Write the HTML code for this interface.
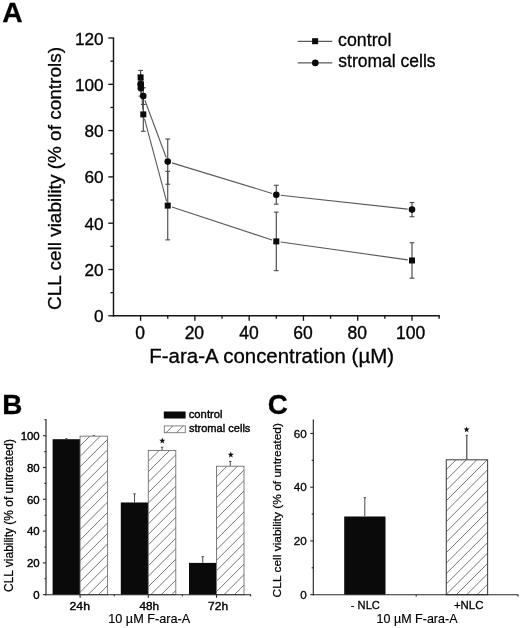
<!DOCTYPE html>
<html lang="en">
<head>
<meta charset="utf-8">
<title>Figure</title>
<style>
html,body{margin:0;padding:0;background:#fff;}
body{width:520px;height:628px;overflow:hidden;font-family:"Liberation Sans",sans-serif;}
svg{display:block;filter:grayscale(1) blur(0.35px);}
svg text{font-family:"Liberation Sans",sans-serif;fill:#000;}
</style>
</head>
<body>
<svg width="520" height="628" viewBox="0 0 520 628">
<rect x="0" y="0" width="520" height="628" fill="#ffffff"/>
<text font-size="28" textLength="20.42" lengthAdjust="spacingAndGlyphs" font-weight="bold" stroke="#000" stroke-width="0.3" x="2.32" y="22.30">A</text>
<line x1="113.50" y1="37.40" x2="113.50" y2="316.45" stroke="#151515" stroke-width="1.45" stroke-linecap="butt"/>
<line x1="112.85" y1="315.80" x2="439.74" y2="315.80" stroke="#151515" stroke-width="1.45" stroke-linecap="butt"/>
<line x1="108.30" y1="315.80" x2="113.50" y2="315.80" stroke="#151515" stroke-width="1.35" stroke-linecap="butt"/>
<text font-size="17.2" textLength="9.57" lengthAdjust="spacingAndGlyphs" stroke="#000" stroke-width="0.3" x="94.09" y="322.30">0</text>
<line x1="110.50" y1="292.65" x2="113.50" y2="292.65" stroke="#151515" stroke-width="1.35" stroke-linecap="butt"/>
<line x1="108.30" y1="269.50" x2="113.50" y2="269.50" stroke="#151515" stroke-width="1.35" stroke-linecap="butt"/>
<text font-size="17.2" textLength="19.13" lengthAdjust="spacingAndGlyphs" stroke="#000" stroke-width="0.3" x="84.53" y="276.00">20</text>
<line x1="110.50" y1="246.35" x2="113.50" y2="246.35" stroke="#151515" stroke-width="1.35" stroke-linecap="butt"/>
<line x1="108.30" y1="223.20" x2="113.50" y2="223.20" stroke="#151515" stroke-width="1.35" stroke-linecap="butt"/>
<text font-size="17.2" textLength="19.13" lengthAdjust="spacingAndGlyphs" stroke="#000" stroke-width="0.3" x="84.53" y="229.70">40</text>
<line x1="110.50" y1="200.05" x2="113.50" y2="200.05" stroke="#151515" stroke-width="1.35" stroke-linecap="butt"/>
<line x1="108.30" y1="176.90" x2="113.50" y2="176.90" stroke="#151515" stroke-width="1.35" stroke-linecap="butt"/>
<text font-size="17.2" textLength="19.13" lengthAdjust="spacingAndGlyphs" stroke="#000" stroke-width="0.3" x="84.53" y="183.40">60</text>
<line x1="110.50" y1="153.75" x2="113.50" y2="153.75" stroke="#151515" stroke-width="1.35" stroke-linecap="butt"/>
<line x1="108.30" y1="130.60" x2="113.50" y2="130.60" stroke="#151515" stroke-width="1.35" stroke-linecap="butt"/>
<text font-size="17.2" textLength="19.13" lengthAdjust="spacingAndGlyphs" stroke="#000" stroke-width="0.3" x="84.53" y="137.10">80</text>
<line x1="110.50" y1="107.45" x2="113.50" y2="107.45" stroke="#151515" stroke-width="1.35" stroke-linecap="butt"/>
<line x1="108.30" y1="84.30" x2="113.50" y2="84.30" stroke="#151515" stroke-width="1.35" stroke-linecap="butt"/>
<text font-size="17.2" textLength="28.70" lengthAdjust="spacingAndGlyphs" stroke="#000" stroke-width="0.3" x="74.96" y="90.80">100</text>
<line x1="110.50" y1="61.15" x2="113.50" y2="61.15" stroke="#151515" stroke-width="1.35" stroke-linecap="butt"/>
<line x1="108.30" y1="38.00" x2="113.50" y2="38.00" stroke="#151515" stroke-width="1.35" stroke-linecap="butt"/>
<text font-size="17.2" textLength="28.70" lengthAdjust="spacingAndGlyphs" stroke="#000" stroke-width="0.3" x="74.96" y="44.50">120</text>
<line x1="140.60" y1="315.80" x2="140.60" y2="320.80" stroke="#151515" stroke-width="1.35" stroke-linecap="butt"/>
<text font-size="17.5" textLength="9.73" lengthAdjust="spacingAndGlyphs" stroke="#000" stroke-width="0.35" x="135.33" y="338.80">0</text>
<line x1="167.74" y1="315.80" x2="167.74" y2="318.80" stroke="#151515" stroke-width="1.35" stroke-linecap="butt"/>
<line x1="194.88" y1="315.80" x2="194.88" y2="320.80" stroke="#151515" stroke-width="1.35" stroke-linecap="butt"/>
<text font-size="17.5" textLength="19.47" lengthAdjust="spacingAndGlyphs" stroke="#000" stroke-width="0.35" x="184.64" y="338.80">20</text>
<line x1="222.02" y1="315.80" x2="222.02" y2="318.80" stroke="#151515" stroke-width="1.35" stroke-linecap="butt"/>
<line x1="249.16" y1="315.80" x2="249.16" y2="320.80" stroke="#151515" stroke-width="1.35" stroke-linecap="butt"/>
<text font-size="17.5" textLength="19.47" lengthAdjust="spacingAndGlyphs" stroke="#000" stroke-width="0.35" x="239.17" y="338.80">40</text>
<line x1="276.30" y1="315.80" x2="276.30" y2="318.80" stroke="#151515" stroke-width="1.35" stroke-linecap="butt"/>
<line x1="303.44" y1="315.80" x2="303.44" y2="320.80" stroke="#151515" stroke-width="1.35" stroke-linecap="butt"/>
<text font-size="17.5" textLength="19.47" lengthAdjust="spacingAndGlyphs" stroke="#000" stroke-width="0.35" x="293.21" y="338.80">60</text>
<line x1="330.58" y1="315.80" x2="330.58" y2="318.80" stroke="#151515" stroke-width="1.35" stroke-linecap="butt"/>
<line x1="357.72" y1="315.80" x2="357.72" y2="320.80" stroke="#151515" stroke-width="1.35" stroke-linecap="butt"/>
<text font-size="17.5" textLength="19.47" lengthAdjust="spacingAndGlyphs" stroke="#000" stroke-width="0.35" x="347.55" y="338.80">80</text>
<line x1="384.86" y1="315.80" x2="384.86" y2="318.80" stroke="#151515" stroke-width="1.35" stroke-linecap="butt"/>
<line x1="412.00" y1="315.80" x2="412.00" y2="320.80" stroke="#151515" stroke-width="1.35" stroke-linecap="butt"/>
<text font-size="17.5" textLength="29.20" lengthAdjust="spacingAndGlyphs" stroke="#000" stroke-width="0.35" x="396.07" y="338.80">100</text>
<line x1="439.14" y1="315.80" x2="439.14" y2="318.80" stroke="#151515" stroke-width="1.35" stroke-linecap="butt"/>
<text font-size="19.3" textLength="244.74" lengthAdjust="spacingAndGlyphs" stroke="#000" stroke-width="0.3" x="149.32" y="363.20">F-ara-A concentration (µM)</text>
<text font-size="19" textLength="262.93" lengthAdjust="spacingAndGlyphs" stroke="#000" stroke-width="0.3" x="61.00" y="309.95" transform="rotate(-90 61.00 309.95)">CLL cell viability (% of controls)</text>
<line x1="141.23" y1="88.69" x2="142.96" y2="110.01" stroke="#5a5a5a" stroke-width="1.1" stroke-linecap="butt"/>
<line x1="144.45" y1="118.65" x2="166.60" y2="201.36" stroke="#5a5a5a" stroke-width="1.1" stroke-linecap="butt"/>
<line x1="171.92" y1="206.98" x2="272.12" y2="240.02" stroke="#5a5a5a" stroke-width="1.1" stroke-linecap="butt"/>
<line x1="280.66" y1="242.01" x2="407.64" y2="259.86" stroke="#5a5a5a" stroke-width="1.1" stroke-linecap="butt"/>
<line x1="144.85" y1="100.23" x2="166.20" y2="157.50" stroke="#5a5a5a" stroke-width="1.1" stroke-linecap="butt"/>
<line x1="171.95" y1="162.90" x2="272.09" y2="193.42" stroke="#5a5a5a" stroke-width="1.1" stroke-linecap="butt"/>
<line x1="280.67" y1="195.18" x2="407.63" y2="209.13" stroke="#5a5a5a" stroke-width="1.1" stroke-linecap="butt"/>
<line x1="140.60" y1="70.41" x2="140.60" y2="84.30" stroke="#4a4a4a" stroke-width="1.15" stroke-linecap="butt"/>
<line x1="138.20" y1="70.41" x2="143.00" y2="70.41" stroke="#4a4a4a" stroke-width="1.1" stroke-linecap="butt"/>
<line x1="138.20" y1="84.30" x2="143.00" y2="84.30" stroke="#4a4a4a" stroke-width="1.1" stroke-linecap="butt"/>
<line x1="140.87" y1="79.67" x2="140.87" y2="88.93" stroke="#4a4a4a" stroke-width="1.15" stroke-linecap="butt"/>
<line x1="138.47" y1="79.67" x2="143.27" y2="79.67" stroke="#4a4a4a" stroke-width="1.1" stroke-linecap="butt"/>
<line x1="138.47" y1="88.93" x2="143.27" y2="88.93" stroke="#4a4a4a" stroke-width="1.1" stroke-linecap="butt"/>
<line x1="143.31" y1="97.50" x2="143.31" y2="131.29" stroke="#4a4a4a" stroke-width="1.15" stroke-linecap="butt"/>
<line x1="140.91" y1="97.50" x2="145.71" y2="97.50" stroke="#4a4a4a" stroke-width="1.1" stroke-linecap="butt"/>
<line x1="140.91" y1="131.29" x2="145.71" y2="131.29" stroke="#4a4a4a" stroke-width="1.1" stroke-linecap="butt"/>
<line x1="167.74" y1="171.34" x2="167.74" y2="239.87" stroke="#4a4a4a" stroke-width="1.15" stroke-linecap="butt"/>
<line x1="165.34" y1="171.34" x2="170.14" y2="171.34" stroke="#4a4a4a" stroke-width="1.1" stroke-linecap="butt"/>
<line x1="165.34" y1="239.87" x2="170.14" y2="239.87" stroke="#4a4a4a" stroke-width="1.1" stroke-linecap="butt"/>
<line x1="276.30" y1="212.11" x2="276.30" y2="270.68" stroke="#4a4a4a" stroke-width="1.15" stroke-linecap="butt"/>
<line x1="273.90" y1="212.11" x2="278.70" y2="212.11" stroke="#4a4a4a" stroke-width="1.1" stroke-linecap="butt"/>
<line x1="273.90" y1="270.68" x2="278.70" y2="270.68" stroke="#4a4a4a" stroke-width="1.1" stroke-linecap="butt"/>
<line x1="412.00" y1="242.74" x2="412.00" y2="278.20" stroke="#4a4a4a" stroke-width="1.15" stroke-linecap="butt"/>
<line x1="409.60" y1="242.74" x2="414.40" y2="242.74" stroke="#4a4a4a" stroke-width="1.1" stroke-linecap="butt"/>
<line x1="409.60" y1="278.20" x2="414.40" y2="278.20" stroke="#4a4a4a" stroke-width="1.1" stroke-linecap="butt"/>
<line x1="140.60" y1="79.67" x2="140.60" y2="88.93" stroke="#4a4a4a" stroke-width="1.15" stroke-linecap="butt"/>
<line x1="138.20" y1="79.67" x2="143.00" y2="79.67" stroke="#4a4a4a" stroke-width="1.1" stroke-linecap="butt"/>
<line x1="138.20" y1="88.93" x2="143.00" y2="88.93" stroke="#4a4a4a" stroke-width="1.1" stroke-linecap="butt"/>
<line x1="140.87" y1="80.36" x2="140.87" y2="96.11" stroke="#4a4a4a" stroke-width="1.15" stroke-linecap="butt"/>
<line x1="138.47" y1="80.36" x2="143.27" y2="80.36" stroke="#4a4a4a" stroke-width="1.1" stroke-linecap="butt"/>
<line x1="138.47" y1="96.11" x2="143.27" y2="96.11" stroke="#4a4a4a" stroke-width="1.1" stroke-linecap="butt"/>
<line x1="143.31" y1="87.77" x2="143.31" y2="104.44" stroke="#4a4a4a" stroke-width="1.15" stroke-linecap="butt"/>
<line x1="140.91" y1="87.77" x2="145.71" y2="87.77" stroke="#4a4a4a" stroke-width="1.1" stroke-linecap="butt"/>
<line x1="140.91" y1="104.44" x2="145.71" y2="104.44" stroke="#4a4a4a" stroke-width="1.1" stroke-linecap="butt"/>
<line x1="167.74" y1="139.03" x2="167.74" y2="184.22" stroke="#4a4a4a" stroke-width="1.15" stroke-linecap="butt"/>
<line x1="165.34" y1="139.03" x2="170.14" y2="139.03" stroke="#4a4a4a" stroke-width="1.1" stroke-linecap="butt"/>
<line x1="165.34" y1="184.22" x2="170.14" y2="184.22" stroke="#4a4a4a" stroke-width="1.1" stroke-linecap="butt"/>
<line x1="276.30" y1="185.26" x2="276.30" y2="204.15" stroke="#4a4a4a" stroke-width="1.15" stroke-linecap="butt"/>
<line x1="273.90" y1="185.26" x2="278.70" y2="185.26" stroke="#4a4a4a" stroke-width="1.1" stroke-linecap="butt"/>
<line x1="273.90" y1="204.15" x2="278.70" y2="204.15" stroke="#4a4a4a" stroke-width="1.1" stroke-linecap="butt"/>
<line x1="412.00" y1="202.50" x2="412.00" y2="216.72" stroke="#4a4a4a" stroke-width="1.15" stroke-linecap="butt"/>
<line x1="409.60" y1="202.50" x2="414.40" y2="202.50" stroke="#4a4a4a" stroke-width="1.1" stroke-linecap="butt"/>
<line x1="409.60" y1="216.72" x2="414.40" y2="216.72" stroke="#4a4a4a" stroke-width="1.1" stroke-linecap="butt"/>
<rect x="137.60" y="74.36" width="6.0" height="6.0" fill="#0a0a0a"/>
<rect x="137.87" y="81.30" width="6.0" height="6.0" fill="#0a0a0a"/>
<rect x="140.31" y="111.40" width="6.0" height="6.0" fill="#0a0a0a"/>
<rect x="164.74" y="202.61" width="6.0" height="6.0" fill="#0a0a0a"/>
<rect x="273.30" y="238.40" width="6.0" height="6.0" fill="#0a0a0a"/>
<rect x="409.00" y="257.47" width="6.0" height="6.0" fill="#0a0a0a"/>
<circle cx="140.60" cy="84.30" r="3.3" fill="#0a0a0a"/>
<circle cx="140.87" cy="88.24" r="3.3" fill="#0a0a0a"/>
<circle cx="143.31" cy="96.11" r="3.3" fill="#0a0a0a"/>
<circle cx="167.74" cy="161.62" r="3.3" fill="#0a0a0a"/>
<circle cx="276.30" cy="194.70" r="3.3" fill="#0a0a0a"/>
<circle cx="412.00" cy="209.61" r="3.3" fill="#0a0a0a"/>
<line x1="297.70" y1="41.40" x2="332.30" y2="41.40" stroke="#5a5a5a" stroke-width="1.15" stroke-linecap="butt"/>
<rect x="312.10" y="38.20" width="6.0" height="6.0" fill="#0a0a0a"/>
<line x1="297.70" y1="62.90" x2="332.30" y2="62.90" stroke="#5a5a5a" stroke-width="1.15" stroke-linecap="butt"/>
<circle cx="315.3" cy="62.90" r="3.3" fill="#0a0a0a"/>
<text font-size="18" textLength="53.33" lengthAdjust="spacingAndGlyphs" stroke="#000" stroke-width="0.3" x="338.05" y="46.30">control</text>
<text font-size="18" textLength="97.30" lengthAdjust="spacingAndGlyphs" stroke="#000" stroke-width="0.3" x="338.33" y="67.30">stromal cells</text>
<text font-size="28" textLength="20.09" lengthAdjust="spacingAndGlyphs" font-weight="bold" stroke="#000" stroke-width="0.3" x="2.36" y="413.80">B</text>
<rect x="52.60" y="439.20" width="27.50" height="155.50" fill="#0a0a0a"/>
<line x1="66.35" y1="438.72" x2="66.35" y2="439.20" stroke="#4a4a4a" stroke-width="1.0" stroke-linecap="butt"/>
<line x1="65.15" y1="438.72" x2="67.55" y2="438.72" stroke="#4a4a4a" stroke-width="1.0" stroke-linecap="butt"/>
<rect x="120.80" y="502.48" width="27.50" height="92.22" fill="#0a0a0a"/>
<line x1="134.55" y1="493.89" x2="134.55" y2="502.48" stroke="#4a4a4a" stroke-width="1.0" stroke-linecap="butt"/>
<line x1="133.35" y1="493.89" x2="135.75" y2="493.89" stroke="#4a4a4a" stroke-width="1.0" stroke-linecap="butt"/>
<rect x="189.00" y="562.90" width="27.50" height="31.80" fill="#0a0a0a"/>
<line x1="202.75" y1="556.70" x2="202.75" y2="562.90" stroke="#4a4a4a" stroke-width="1.0" stroke-linecap="butt"/>
<line x1="201.55" y1="556.70" x2="203.95" y2="556.70" stroke="#4a4a4a" stroke-width="1.0" stroke-linecap="butt"/>
<line x1="93.85" y1="435.70" x2="93.85" y2="436.18" stroke="#4a4a4a" stroke-width="1.0" stroke-linecap="butt"/>
<line x1="92.65" y1="435.70" x2="95.05" y2="435.70" stroke="#4a4a4a" stroke-width="1.0" stroke-linecap="butt"/>
<clipPath id="c1"><rect x="80.10" y="436.18" width="27.50" height="158.52"/></clipPath>
<rect x="80.10" y="436.18" width="27.50" height="158.52" fill="#fff"/>
<g clip-path="url(#c1)" stroke="#5c5c5c" stroke-width="0.85">
<line x1="78.10" y1="427.00" x2="109.60" y2="395.50"/>
<line x1="78.10" y1="437.45" x2="109.60" y2="405.95"/>
<line x1="78.10" y1="447.90" x2="109.60" y2="416.40"/>
<line x1="78.10" y1="458.35" x2="109.60" y2="426.85"/>
<line x1="78.10" y1="468.80" x2="109.60" y2="437.30"/>
<line x1="78.10" y1="479.25" x2="109.60" y2="447.75"/>
<line x1="78.10" y1="489.70" x2="109.60" y2="458.20"/>
<line x1="78.10" y1="500.15" x2="109.60" y2="468.65"/>
<line x1="78.10" y1="510.60" x2="109.60" y2="479.10"/>
<line x1="78.10" y1="521.05" x2="109.60" y2="489.55"/>
<line x1="78.10" y1="531.50" x2="109.60" y2="500.00"/>
<line x1="78.10" y1="541.95" x2="109.60" y2="510.45"/>
<line x1="78.10" y1="552.40" x2="109.60" y2="520.90"/>
<line x1="78.10" y1="562.85" x2="109.60" y2="531.35"/>
<line x1="78.10" y1="573.30" x2="109.60" y2="541.80"/>
<line x1="78.10" y1="583.75" x2="109.60" y2="552.25"/>
<line x1="78.10" y1="594.20" x2="109.60" y2="562.70"/>
<line x1="78.10" y1="604.65" x2="109.60" y2="573.15"/>
<line x1="78.10" y1="615.10" x2="109.60" y2="583.60"/>
<line x1="78.10" y1="625.55" x2="109.60" y2="594.05"/>
<line x1="78.10" y1="636.00" x2="109.60" y2="604.50"/>
</g>
<rect x="80.10" y="436.18" width="27.50" height="158.52" fill="none" stroke="#707070" stroke-width="0.9"/>
<line x1="162.05" y1="447.31" x2="162.05" y2="450.49" stroke="#4a4a4a" stroke-width="1.0" stroke-linecap="butt"/>
<line x1="160.85" y1="447.31" x2="163.25" y2="447.31" stroke="#4a4a4a" stroke-width="1.0" stroke-linecap="butt"/>
<clipPath id="c2"><rect x="148.30" y="450.49" width="27.50" height="144.21"/></clipPath>
<rect x="148.30" y="450.49" width="27.50" height="144.21" fill="#fff"/>
<g clip-path="url(#c2)" stroke="#5c5c5c" stroke-width="0.85">
<line x1="146.30" y1="431.95" x2="177.80" y2="400.45"/>
<line x1="146.30" y1="442.40" x2="177.80" y2="410.90"/>
<line x1="146.30" y1="452.85" x2="177.80" y2="421.35"/>
<line x1="146.30" y1="463.30" x2="177.80" y2="431.80"/>
<line x1="146.30" y1="473.75" x2="177.80" y2="442.25"/>
<line x1="146.30" y1="484.20" x2="177.80" y2="452.70"/>
<line x1="146.30" y1="494.65" x2="177.80" y2="463.15"/>
<line x1="146.30" y1="505.10" x2="177.80" y2="473.60"/>
<line x1="146.30" y1="515.55" x2="177.80" y2="484.05"/>
<line x1="146.30" y1="526.00" x2="177.80" y2="494.50"/>
<line x1="146.30" y1="536.45" x2="177.80" y2="504.95"/>
<line x1="146.30" y1="546.90" x2="177.80" y2="515.40"/>
<line x1="146.30" y1="557.35" x2="177.80" y2="525.85"/>
<line x1="146.30" y1="567.80" x2="177.80" y2="536.30"/>
<line x1="146.30" y1="578.25" x2="177.80" y2="546.75"/>
<line x1="146.30" y1="588.70" x2="177.80" y2="557.20"/>
<line x1="146.30" y1="599.15" x2="177.80" y2="567.65"/>
<line x1="146.30" y1="609.60" x2="177.80" y2="578.10"/>
<line x1="146.30" y1="620.05" x2="177.80" y2="588.55"/>
<line x1="146.30" y1="630.50" x2="177.80" y2="599.00"/>
<line x1="146.30" y1="640.95" x2="177.80" y2="609.45"/>
</g>
<rect x="148.30" y="450.49" width="27.50" height="144.21" fill="none" stroke="#707070" stroke-width="0.9"/>
<line x1="230.25" y1="461.46" x2="230.25" y2="466.23" stroke="#4a4a4a" stroke-width="1.0" stroke-linecap="butt"/>
<line x1="229.05" y1="461.46" x2="231.45" y2="461.46" stroke="#4a4a4a" stroke-width="1.0" stroke-linecap="butt"/>
<clipPath id="c3"><rect x="216.50" y="466.23" width="27.50" height="128.47"/></clipPath>
<rect x="216.50" y="466.23" width="27.50" height="128.47" fill="#fff"/>
<g clip-path="url(#c3)" stroke="#5c5c5c" stroke-width="0.85">
<line x1="214.50" y1="447.35" x2="246.00" y2="415.85"/>
<line x1="214.50" y1="457.80" x2="246.00" y2="426.30"/>
<line x1="214.50" y1="468.25" x2="246.00" y2="436.75"/>
<line x1="214.50" y1="478.70" x2="246.00" y2="447.20"/>
<line x1="214.50" y1="489.15" x2="246.00" y2="457.65"/>
<line x1="214.50" y1="499.60" x2="246.00" y2="468.10"/>
<line x1="214.50" y1="510.05" x2="246.00" y2="478.55"/>
<line x1="214.50" y1="520.50" x2="246.00" y2="489.00"/>
<line x1="214.50" y1="530.95" x2="246.00" y2="499.45"/>
<line x1="214.50" y1="541.40" x2="246.00" y2="509.90"/>
<line x1="214.50" y1="551.85" x2="246.00" y2="520.35"/>
<line x1="214.50" y1="562.30" x2="246.00" y2="530.80"/>
<line x1="214.50" y1="572.75" x2="246.00" y2="541.25"/>
<line x1="214.50" y1="583.20" x2="246.00" y2="551.70"/>
<line x1="214.50" y1="593.65" x2="246.00" y2="562.15"/>
<line x1="214.50" y1="604.10" x2="246.00" y2="572.60"/>
<line x1="214.50" y1="614.55" x2="246.00" y2="583.05"/>
<line x1="214.50" y1="625.00" x2="246.00" y2="593.50"/>
<line x1="214.50" y1="635.45" x2="246.00" y2="603.95"/>
</g>
<rect x="216.50" y="466.23" width="27.50" height="128.47" fill="none" stroke="#707070" stroke-width="0.9"/>
<polygon points="162.30,437.60 163.09,439.71 165.34,439.81 163.58,441.22 164.18,443.39 162.30,442.14 160.42,443.39 161.02,441.22 159.26,439.81 161.51,439.71" fill="#111"/>
<polygon points="230.80,451.60 231.59,453.71 233.84,453.81 232.08,455.22 232.68,457.39 230.80,456.14 228.92,457.39 229.52,455.22 227.76,453.81 230.01,453.71" fill="#111"/>
<line x1="46.00" y1="419.30" x2="46.00" y2="595.25" stroke="#262626" stroke-width="1.15" stroke-linecap="butt"/>
<line x1="45.45" y1="594.70" x2="251.00" y2="594.70" stroke="#262626" stroke-width="1.15" stroke-linecap="butt"/>
<line x1="43.00" y1="594.70" x2="46.00" y2="594.70" stroke="#262626" stroke-width="1.1" stroke-linecap="butt"/>
<text font-size="11.8" textLength="6.37" lengthAdjust="spacingAndGlyphs" stroke="#000" stroke-width="0.4" x="33.37" y="598.90">0</text>
<line x1="44.40" y1="578.80" x2="46.00" y2="578.80" stroke="#262626" stroke-width="1.1" stroke-linecap="butt"/>
<line x1="43.00" y1="562.90" x2="46.00" y2="562.90" stroke="#262626" stroke-width="1.1" stroke-linecap="butt"/>
<text font-size="11.8" textLength="12.73" lengthAdjust="spacingAndGlyphs" stroke="#000" stroke-width="0.4" x="27.01" y="567.10">20</text>
<line x1="44.40" y1="547.00" x2="46.00" y2="547.00" stroke="#262626" stroke-width="1.1" stroke-linecap="butt"/>
<line x1="43.00" y1="531.10" x2="46.00" y2="531.10" stroke="#262626" stroke-width="1.1" stroke-linecap="butt"/>
<text font-size="11.8" textLength="12.73" lengthAdjust="spacingAndGlyphs" stroke="#000" stroke-width="0.4" x="27.01" y="535.30">40</text>
<line x1="44.40" y1="515.20" x2="46.00" y2="515.20" stroke="#262626" stroke-width="1.1" stroke-linecap="butt"/>
<line x1="43.00" y1="499.30" x2="46.00" y2="499.30" stroke="#262626" stroke-width="1.1" stroke-linecap="butt"/>
<text font-size="11.8" textLength="12.73" lengthAdjust="spacingAndGlyphs" stroke="#000" stroke-width="0.4" x="27.01" y="503.50">60</text>
<line x1="44.40" y1="483.40" x2="46.00" y2="483.40" stroke="#262626" stroke-width="1.1" stroke-linecap="butt"/>
<line x1="43.00" y1="467.50" x2="46.00" y2="467.50" stroke="#262626" stroke-width="1.1" stroke-linecap="butt"/>
<text font-size="11.8" textLength="12.73" lengthAdjust="spacingAndGlyphs" stroke="#000" stroke-width="0.4" x="27.01" y="471.70">80</text>
<line x1="44.40" y1="451.60" x2="46.00" y2="451.60" stroke="#262626" stroke-width="1.1" stroke-linecap="butt"/>
<line x1="43.00" y1="435.70" x2="46.00" y2="435.70" stroke="#262626" stroke-width="1.1" stroke-linecap="butt"/>
<text font-size="11.8" textLength="19.10" lengthAdjust="spacingAndGlyphs" stroke="#000" stroke-width="0.4" x="20.64" y="439.90">100</text>
<line x1="44.40" y1="419.80" x2="46.00" y2="419.80" stroke="#262626" stroke-width="1.1" stroke-linecap="butt"/>
<line x1="80.10" y1="594.70" x2="80.10" y2="597.70" stroke="#262626" stroke-width="1.1" stroke-linecap="butt"/>
<line x1="114.20" y1="594.70" x2="114.20" y2="596.30" stroke="#262626" stroke-width="1.1" stroke-linecap="butt"/>
<line x1="148.30" y1="594.70" x2="148.30" y2="597.70" stroke="#262626" stroke-width="1.1" stroke-linecap="butt"/>
<line x1="182.40" y1="594.70" x2="182.40" y2="596.30" stroke="#262626" stroke-width="1.1" stroke-linecap="butt"/>
<line x1="216.50" y1="594.70" x2="216.50" y2="597.70" stroke="#262626" stroke-width="1.1" stroke-linecap="butt"/>
<line x1="250.60" y1="594.70" x2="250.60" y2="596.30" stroke="#262626" stroke-width="1.1" stroke-linecap="butt"/>
<text font-size="11.7" textLength="20.40" lengthAdjust="spacingAndGlyphs" stroke="#000" stroke-width="0.4" x="69.59" y="609.80">24h</text>
<text font-size="11.7" textLength="19.51" lengthAdjust="spacingAndGlyphs" stroke="#000" stroke-width="0.4" x="139.54" y="609.80">48h</text>
<text font-size="11.7" textLength="19.98" lengthAdjust="spacingAndGlyphs" stroke="#000" stroke-width="0.4" x="208.09" y="609.80">72h</text>
<text font-size="12.4" textLength="81.99" lengthAdjust="spacingAndGlyphs" stroke="#000" stroke-width="0.15" x="108.24" y="623.20">10 µM F-ara-A</text>
<text font-size="12.2" textLength="152.84" lengthAdjust="spacingAndGlyphs" stroke="#000" stroke-width="0.25" x="12.80" y="591.90" transform="rotate(-90 12.80 591.90)">CLL viability (% of untreated)</text>
<rect x="163.8" y="411.5" width="21.8" height="7.0" fill="#0a0a0a"/>
<clipPath id="c4"><rect x="164.30" y="425.90" width="21.00" height="6.80"/></clipPath>
<rect x="164.30" y="425.90" width="21.00" height="6.80" fill="#fff"/>
<g clip-path="url(#c4)" stroke="#5c5c5c" stroke-width="0.85">
<line x1="162.30" y1="415.55" x2="187.30" y2="390.55"/>
<line x1="162.30" y1="426.00" x2="187.30" y2="401.00"/>
<line x1="162.30" y1="436.45" x2="187.30" y2="411.45"/>
<line x1="162.30" y1="446.90" x2="187.30" y2="421.90"/>
<line x1="162.30" y1="457.35" x2="187.30" y2="432.35"/>
<line x1="162.30" y1="467.80" x2="187.30" y2="442.80"/>
</g>
<rect x="164.30" y="425.90" width="21.00" height="6.80" fill="none" stroke="#777" stroke-width="0.9"/>
<text font-size="11.3" textLength="33.82" lengthAdjust="spacingAndGlyphs" stroke="#000" stroke-width="0.4" x="188.73" y="418.20">control</text>
<text font-size="11.3" textLength="61.49" lengthAdjust="spacingAndGlyphs" stroke="#000" stroke-width="0.4" x="188.90" y="432.20">stromal cells</text>
<text font-size="28" textLength="20.10" lengthAdjust="spacingAndGlyphs" font-weight="bold" stroke="#000" stroke-width="0.3" x="267.66" y="414.20">C</text>
<rect x="344.2" y="516.49" width="41.3" height="78.21" fill="#0a0a0a"/>
<line x1="364.80" y1="497.68" x2="364.80" y2="516.49" stroke="#4a4a4a" stroke-width="1.0" stroke-linecap="butt"/>
<line x1="363.60" y1="497.68" x2="366.00" y2="497.68" stroke="#4a4a4a" stroke-width="1.0" stroke-linecap="butt"/>
<line x1="466.80" y1="435.33" x2="466.80" y2="459.79" stroke="#4a4a4a" stroke-width="1.2" stroke-linecap="butt"/>
<line x1="465.60" y1="435.33" x2="468.00" y2="435.33" stroke="#4a4a4a" stroke-width="1.0" stroke-linecap="butt"/>
<clipPath id="c5"><rect x="446.30" y="459.79" width="41.30" height="134.91"/></clipPath>
<rect x="446.30" y="459.79" width="41.30" height="134.91" fill="#fff"/>
<g clip-path="url(#c5)" stroke="#5c5c5c" stroke-width="0.85">
<line x1="444.30" y1="450.70" x2="489.60" y2="405.40"/>
<line x1="444.30" y1="461.10" x2="489.60" y2="415.80"/>
<line x1="444.30" y1="471.50" x2="489.60" y2="426.20"/>
<line x1="444.30" y1="481.90" x2="489.60" y2="436.60"/>
<line x1="444.30" y1="492.30" x2="489.60" y2="447.00"/>
<line x1="444.30" y1="502.70" x2="489.60" y2="457.40"/>
<line x1="444.30" y1="513.10" x2="489.60" y2="467.80"/>
<line x1="444.30" y1="523.50" x2="489.60" y2="478.20"/>
<line x1="444.30" y1="533.90" x2="489.60" y2="488.60"/>
<line x1="444.30" y1="544.30" x2="489.60" y2="499.00"/>
<line x1="444.30" y1="554.70" x2="489.60" y2="509.40"/>
<line x1="444.30" y1="565.10" x2="489.60" y2="519.80"/>
<line x1="444.30" y1="575.50" x2="489.60" y2="530.20"/>
<line x1="444.30" y1="585.90" x2="489.60" y2="540.60"/>
<line x1="444.30" y1="596.30" x2="489.60" y2="551.00"/>
<line x1="444.30" y1="606.70" x2="489.60" y2="561.40"/>
<line x1="444.30" y1="617.10" x2="489.60" y2="571.80"/>
<line x1="444.30" y1="627.50" x2="489.60" y2="582.20"/>
<line x1="444.30" y1="637.90" x2="489.60" y2="592.60"/>
<line x1="444.30" y1="648.30" x2="489.60" y2="603.00"/>
<line x1="444.30" y1="658.70" x2="489.60" y2="613.40"/>
</g>
<rect x="446.30" y="459.79" width="41.30" height="134.91" fill="none" stroke="#484848" stroke-width="1.1"/>
<polygon points="466.60,426.40 467.39,428.51 469.64,428.61 467.88,430.02 468.48,432.19 466.60,430.94 464.72,432.19 465.32,430.02 463.56,428.61 465.81,428.51" fill="#111"/>
<line x1="313.30" y1="419.51" x2="313.30" y2="595.25" stroke="#262626" stroke-width="1.15" stroke-linecap="butt"/>
<line x1="312.75" y1="594.70" x2="518.20" y2="594.70" stroke="#262626" stroke-width="1.15" stroke-linecap="butt"/>
<line x1="310.30" y1="594.70" x2="313.30" y2="594.70" stroke="#262626" stroke-width="1.1" stroke-linecap="butt"/>
<text font-size="11.7" textLength="6.51" lengthAdjust="spacingAndGlyphs" stroke="#000" stroke-width="0.3" x="300.34" y="598.80">0</text>
<line x1="311.70" y1="567.83" x2="313.30" y2="567.83" stroke="#262626" stroke-width="1.1" stroke-linecap="butt"/>
<line x1="310.30" y1="540.95" x2="313.30" y2="540.95" stroke="#262626" stroke-width="1.1" stroke-linecap="butt"/>
<text font-size="11.7" textLength="13.01" lengthAdjust="spacingAndGlyphs" stroke="#000" stroke-width="0.3" x="293.83" y="545.05">20</text>
<line x1="311.70" y1="514.08" x2="313.30" y2="514.08" stroke="#262626" stroke-width="1.1" stroke-linecap="butt"/>
<line x1="310.30" y1="487.20" x2="313.30" y2="487.20" stroke="#262626" stroke-width="1.1" stroke-linecap="butt"/>
<text font-size="11.7" textLength="13.01" lengthAdjust="spacingAndGlyphs" stroke="#000" stroke-width="0.3" x="293.83" y="491.30">40</text>
<line x1="311.70" y1="460.33" x2="313.30" y2="460.33" stroke="#262626" stroke-width="1.1" stroke-linecap="butt"/>
<line x1="310.30" y1="433.45" x2="313.30" y2="433.45" stroke="#262626" stroke-width="1.1" stroke-linecap="butt"/>
<text font-size="11.7" textLength="13.01" lengthAdjust="spacingAndGlyphs" stroke="#000" stroke-width="0.3" x="293.83" y="437.55">60</text>
<line x1="416.20" y1="594.70" x2="416.20" y2="596.50" stroke="#262626" stroke-width="1.1" stroke-linecap="butt"/>
<line x1="518.00" y1="594.70" x2="518.00" y2="596.50" stroke="#262626" stroke-width="1.1" stroke-linecap="butt"/>
<text font-size="11.6" textLength="29.11" lengthAdjust="spacingAndGlyphs" stroke="#000" stroke-width="0.3" x="350.81" y="609.30">- NLC</text>
<text font-size="11.6" textLength="29.47" lengthAdjust="spacingAndGlyphs" stroke="#000" stroke-width="0.3" x="453.95" y="609.30">+NLC</text>
<text font-size="12.4" textLength="80.98" lengthAdjust="spacingAndGlyphs" stroke="#000" stroke-width="0.15" x="376.55" y="623.30">10 µM F-ara-A</text>
<text font-size="11.7" textLength="174.33" lengthAdjust="spacingAndGlyphs" stroke="#000" stroke-width="0.25" x="281.00" y="597.40" transform="rotate(-90 281.00 597.40)">CLL cell viability (% of untreated)</text>
</svg>
</body>
</html>
